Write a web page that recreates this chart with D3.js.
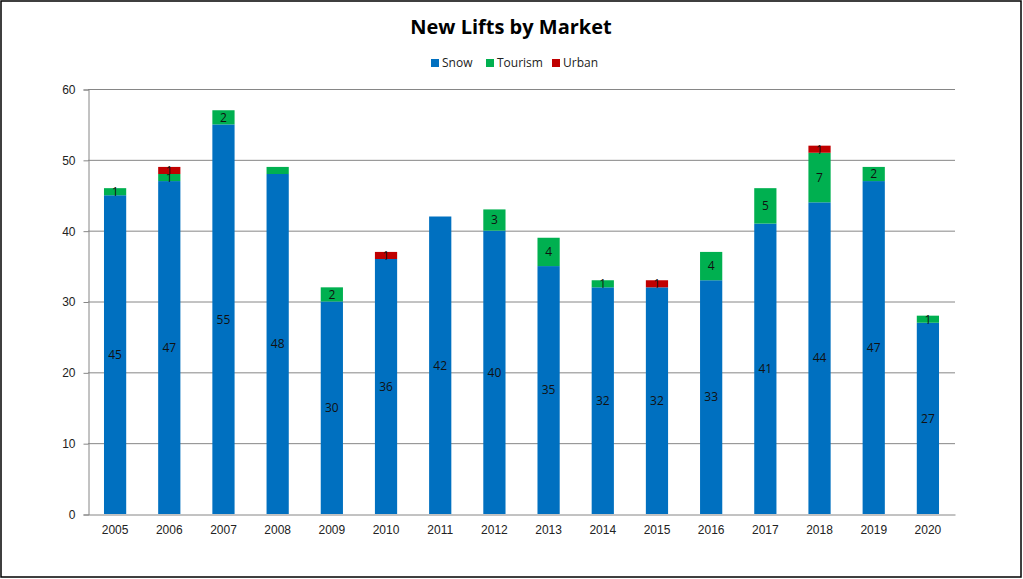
<!DOCTYPE html>
<html><head><meta charset="utf-8">
<script src="https://cdn.jsdelivr.net/npm/d3@7"></script>
<style>
body{margin:0;background:#fff;}
svg{display:block;font-family:"Open Sans","Liberation Sans",sans-serif;}
</style></head>
<body>
<svg id="c" width="1023" height="579"></svg>
<script>
const years = ["2005","2006","2007","2008","2009","2010","2011","2012","2013","2014","2015","2016","2017","2018","2019","2020"];
const snow = [45,47,55,48,30,36,42,40,35,32,32,33,41,44,47,27];
const tourism = [1,1,2,1,2,0,0,3,4,1,0,4,5,7,2,1];
const urban = [0,1,0,0,0,1,0,0,0,0,1,0,0,1,0,0];
const tourismLabelHidden = ["2008"];
const seriesNames = ["Snow","Tourism","Urban"];
const colors = ["#0070C0","#00B050","#C00000"];
const yTicks = [0,10,20,30,40,50,60];

const svg = d3.select("#c");
svg.append("rect").attr("x",1).attr("y",1).attr("width",1020).attr("height",576)
  .attr("fill","#fff").attr("stroke","#000").attr("stroke-width",1.5);

const pLeft=88, pRight=955, pTop=89, pBottom=514;
const x = d3.scaleBand().domain(years).range([pLeft,pRight]).paddingInner(0.59).paddingOuter(0.295);
const y = d3.scaleLinear().domain([0,60]).range([pBottom,pTop]);

// gridlines
svg.append("g").selectAll("line").data(yTicks.filter(d=>d>0)).join("line")
  .attr("x1",pLeft).attr("x2",pRight).attr("y1",d=>y(d)+0.5).attr("y2",d=>y(d)+0.5)
  .attr("stroke","#868686").attr("stroke-width",1);

// y axis
const ya = svg.append("g").attr("transform",`translate(${pLeft+0.5},0.5)`)
  .call(d3.axisLeft(y).tickValues(yTicks).tickSize(5).tickPadding(8));
ya.select(".domain").attr("stroke","#868686");
ya.selectAll(".tick line").attr("stroke","#868686");
ya.selectAll("text").attr("font-size",12).attr("fill","#222").attr("font-family",null);

const data = years.map((yr,i)=>({year:yr, Snow:snow[i], Tourism:tourism[i], Urban:urban[i]}));
const stack = d3.stack().keys(seriesNames)(data);

stack.forEach((s,si)=>{
  const g = svg.append("g");
  const segs = s.filter(d=>d[1]-d[0]>0);
  g.selectAll("rect").data(segs).join("rect")
    .attr("x",d=>x(d.data.year)).attr("width",x.bandwidth())
    .attr("y",d=>y(d[1])).attr("height",d=>y(d[0])-y(d[1]))
    .attr("fill",colors[si]);
  g.selectAll("text").data(segs.filter(d=>!(si===1 && tourismLabelHidden.includes(d.data.year))))
    .join("text")
    .attr("x",d=>x(d.data.year)+x.bandwidth()/2)
    .attr("y",d=>(y(d[0])+y(d[1]))/2)
    .attr("dy","0.36em").attr("text-anchor","middle")
    .attr("font-size",12).attr("fill","#111")
    .text(d=>d[1]-d[0]);
});

// x axis
const xa = svg.append("g").attr("transform",`translate(0,${pBottom+0.5})`)
  .call(d3.axisBottom(x).tickSize(0).tickPadding(11));
xa.select(".domain").attr("stroke","#868686");
xa.selectAll("text").attr("font-size",12).attr("fill","#222").attr("font-family",null);

// title
svg.append("text").attr("x",511).attr("y",34).attr("text-anchor","middle")
  .attr("font-size",20).attr("font-weight","bold").attr("fill","#000").text("New Lifts by Market");

// legend
const lg = svg.append("g");
const legX = [431,486,552];
seriesNames.forEach((n,i)=>{
  lg.append("rect").attr("x",legX[i]).attr("y",59).attr("width",8).attr("height",8).attr("fill",colors[i]);
  lg.append("text").attr("x",legX[i]+11).attr("y",63).attr("dy","0.36em")
    .attr("font-size",12).attr("fill","#222").text(n);
});
</script>
</body></html>
